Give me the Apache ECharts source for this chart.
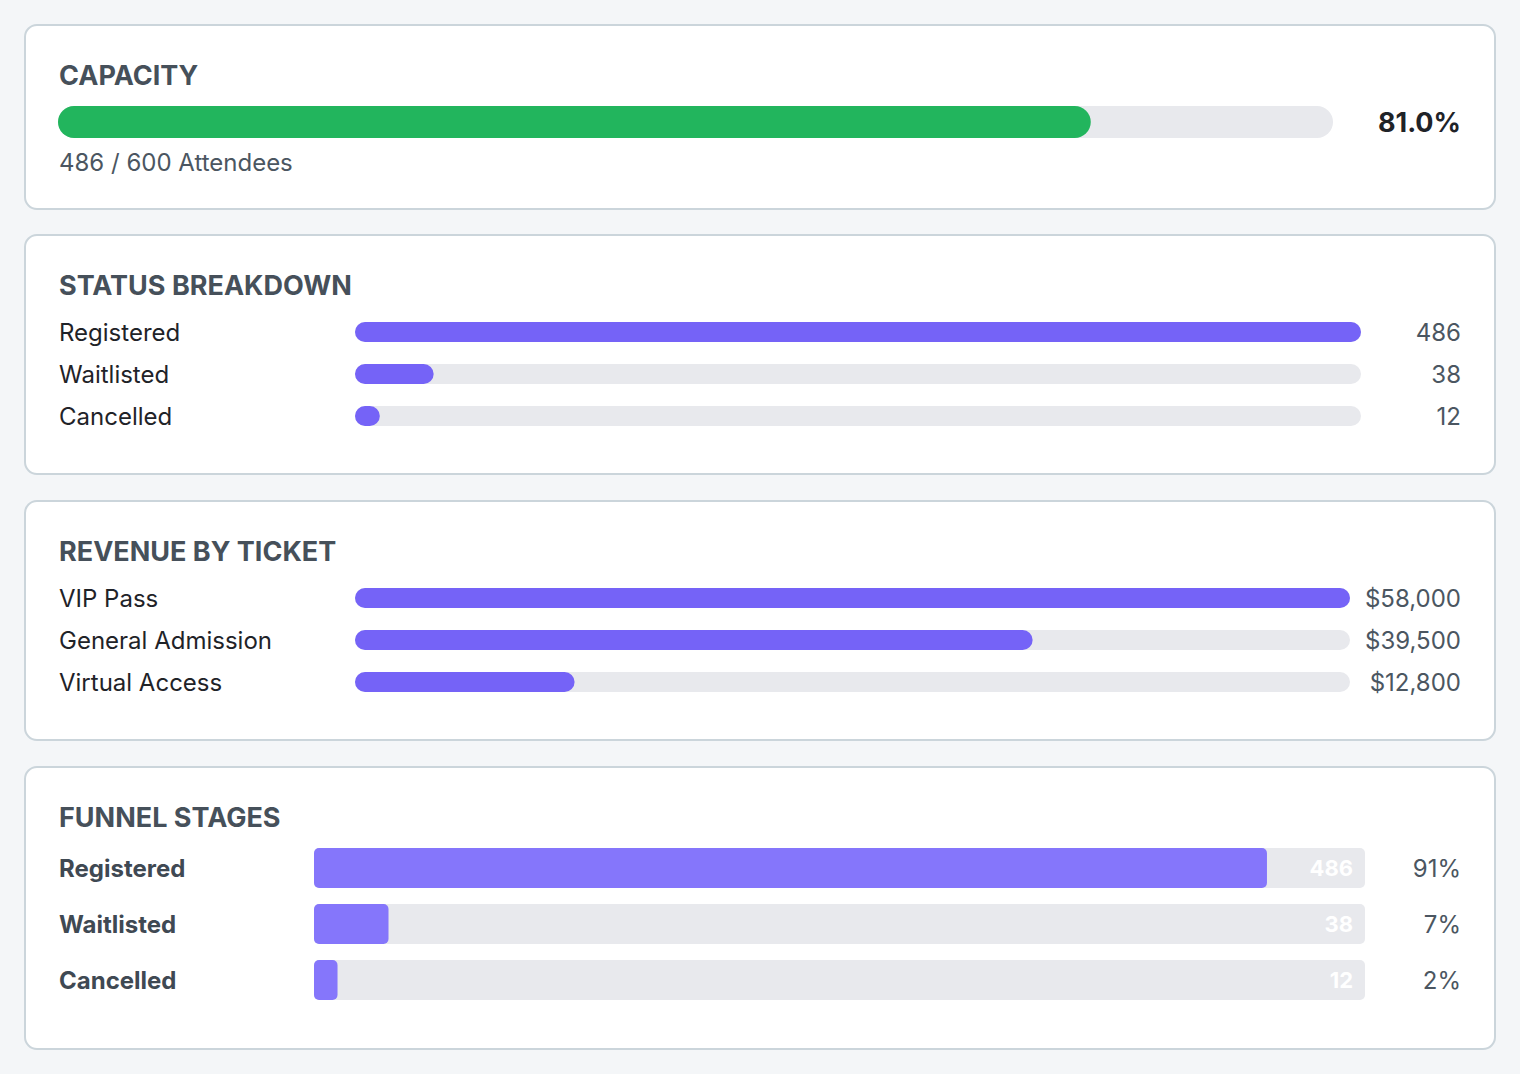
<!DOCTYPE html>
<html>
<head>
<meta charset="utf-8">
<script src="https://cdn.jsdelivr.net/npm/echarts@6/dist/echarts.min.js"></script>
<style>
html,body{margin:0;padding:0;background:#f4f6f8;}
#main{width:1520px;height:1074px;}
</style>
</head>
<body>
<div id="main"></div>
<script>
// capacity
var capacityUsed = 486;
var capacityTotal = 600;
// status breakdown
var statusNames = ['Registered', 'Waitlisted', 'Cancelled'];
var statusValues = [486, 38, 12];
// revenue by ticket
var ticketNames = ['VIP Pass', 'General Admission', 'Virtual Access'];
var ticketRevenue = [58000, 39500, 12800];
// funnel stages
var funnelNames = ['Registered', 'Waitlisted', 'Cancelled'];
var funnelValues = [486, 38, 12];
var funnelPct = ['91%', '7%', '2%'];

var FONT = 'Inter, "Noto Sans", sans-serif';
var TRACK = '#e8e9ed';
var PURPLE = '#7563f7';

function card(y, h){
    return {
        type: 'rect', z: 0,
        shape: {x: 25, y: y, width: 1470, height: h, r: 12},
        style: {fill: '#ffffff', stroke: '#cbd5db', lineWidth: 2}
    };
}
function title(txt, y){
    return {
        type: 'text', z: 10,
        style: {text: txt, x: 59, y: y, fontFamily: FONT, fontSize: 27, fontWeight: 'bold',
            fill: '#46505a', verticalAlign: 'middle'}
    };
}
function leftAxis(grid, names, margin, bold, color, pad){
    return {
        type: 'category', gridIndex: grid, data: names, inverse: true, position: 'left',
        axisLine: {show: false}, axisTick: {show: false},
        axisLabel: {margin: margin, align: 'left', fontFamily: FONT, fontSize: 24,
            fontWeight: bold ? 'bold' : 'normal', color: color, padding: pad || 0}
    };
}
function rightAxis(grid, names, margin, fmt, size, bold, color, pad){
    return {
        type: 'category', gridIndex: grid, data: names, inverse: true, position: 'right',
        axisLine: {show: false}, axisTick: {show: false},
        axisLabel: {margin: margin, align: 'right', fontFamily: FONT, fontSize: size,
            fontWeight: bold ? 'bold' : 'normal', color: color, formatter: fmt, padding: pad || 0}
    };
}
function valueAxis(grid, max){
    return {type: 'value', gridIndex: grid, min: 0, max: max, show: false};
}

var funnelTotal = 0;
for (var i = 0; i < funnelValues.length; i++) funnelTotal += funnelValues[i];

var myChart = echarts.init(document.getElementById('main'), null, {renderer: 'svg'});
var option = {
    backgroundColor: '#f4f6f8',
    animation: false,
    graphic: [
        card(25, 184), card(235, 239), card(501, 239), card(767, 282),
        title('CAPACITY', 75),
        title('STATUS BREAKDOWN', 285),
        title('REVENUE BY TICKET', 551),
        title('FUNNEL STAGES', 817),
        {
            type: 'text', z: 10,
            style: {text: capacityUsed + ' / ' + capacityTotal + ' Attendees', x: 59, y: 162,
                fontFamily: FONT, fontSize: 24, fill: '#4b5661', verticalAlign: 'middle'}
        }
    ],
    grid: [
        {left: 58, width: 1275, top: 106, height: 32, outerBoundsMode: 'none'},
        {left: 355, width: 1006, top: 311, height: 126, outerBoundsMode: 'none'},
        {left: 355, width: 995, top: 577, height: 126, outerBoundsMode: 'none'},
        {left: 314, width: 1051, top: 840, height: 168, outerBoundsMode: 'none'}
    ],
    xAxis: [
        valueAxis(0, capacityTotal),
        valueAxis(1, statusValues[0]),
        valueAxis(2, ticketRevenue[0]),
        valueAxis(3, funnelTotal)
    ],
    yAxis: [
        // 0,1 capacity
        {type: 'category', gridIndex: 0, data: ['Capacity'], show: false},
        rightAxis(0, ['Capacity'], 128, function(){
            return (capacityUsed / capacityTotal * 100).toFixed(1) + '%';
        }, 27, true, '#1f2328', [2, 0, 0, 0]),
        // 2,3 status
        leftAxis(1, statusNames, 296, false, '#1f2328'),
        rightAxis(1, statusNames, 100, function(v, i){ return statusValues[i]; }, 24, false, '#4b5661'),
        // 4,5 revenue
        leftAxis(2, ticketNames, 296, false, '#1f2328'),
        rightAxis(2, ticketNames, 111, function(v, i){
            return '$' + ticketRevenue[i].toLocaleString('en-US');
        }, 24, false, '#4b5661'),
        // 6,7 funnel
        leftAxis(3, funnelNames, 255, true, '#3f4953', [4, 0, 0, 0]),
        rightAxis(3, funnelNames, 96, function(v, i){ return funnelPct[i]; }, 24, false, '#4b5661', [4, 0, 0, 0])
    ],
    series: [
        {
            type: 'bar', xAxisIndex: 0, yAxisIndex: 0, data: [capacityUsed], barWidth: 32,
            itemStyle: {color: '#22b55d', borderRadius: 16},
            showBackground: true, backgroundStyle: {color: TRACK, borderRadius: 16}
        },
        {
            type: 'bar', xAxisIndex: 1, yAxisIndex: 2, data: statusValues, barWidth: 20,
            itemStyle: {color: PURPLE, borderRadius: 10},
            showBackground: true, backgroundStyle: {color: TRACK, borderRadius: 10}
        },
        {
            type: 'bar', xAxisIndex: 2, yAxisIndex: 4, data: ticketRevenue, barWidth: 20,
            itemStyle: {color: PURPLE, borderRadius: 10},
            showBackground: true, backgroundStyle: {color: TRACK, borderRadius: 10}
        },
        // funnel track carries the count labels
        {
            type: 'bar', xAxisIndex: 3, yAxisIndex: 6, barWidth: 40, silent: true,
            data: funnelValues.map(function(){ return funnelTotal; }),
            itemStyle: {color: TRACK, borderRadius: 5},
            label: {show: true, position: 'insideRight', distance: 12, color: '#ffffff',
                fontFamily: FONT, fontSize: 22, fontWeight: 'bold', padding: [4, 0, 0, 0],
                formatter: function(p){ return funnelValues[p.dataIndex]; }}
        },
        {
            type: 'bar', xAxisIndex: 3, yAxisIndex: 6, barWidth: 40, barGap: '-100%',
            data: funnelValues,
            itemStyle: {color: '#8576fb', borderRadius: 5}
        }
    ]
};
myChart.setOption(option);
</script>
</body>
</html>
